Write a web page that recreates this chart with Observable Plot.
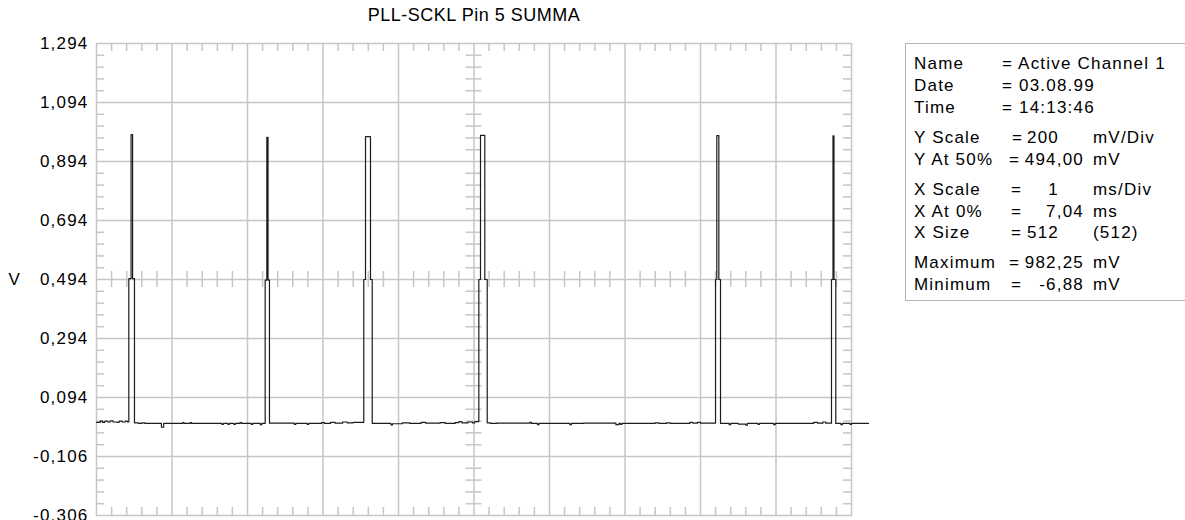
<!DOCTYPE html>
<html>
<head>
<meta charset="utf-8">
<script src="https://cdn.jsdelivr.net/npm/d3@7"></script>
<script src="https://cdn.jsdelivr.net/npm/@observablehq/plot@0.6"></script>
<style>
  html, body { margin: 0; padding: 0; background: #fff; }
  #wrap { position: relative; width: 1185px; height: 520px; overflow: hidden; font-family: "Liberation Sans", Arial, sans-serif; color: #000; }
  #info { position: absolute; left: 905px; top: 43px; width: 300px; height: 258px; border: 1px solid #b4b4b4; box-sizing: border-box; }
  .it { position: absolute; font-size: 17px; letter-spacing: 1.2px; white-space: nowrap; line-height: 1; transform: translateY(-50%); }
  .r { transform: translate(-100%, -50%); }
  #chart svg g[aria-label="y-axis tick label"] text { letter-spacing: 1.2px; }
  #chart svg g[aria-label="text"] text { letter-spacing: 0.5px; }
</style>
</head>
<body>
<div id="wrap"><div id="chart"></div></div>
<script>
// ---------- data ----------
const title = "PLL-SCKL Pin 5 SUMMA";
const yUnit = "V";
const yTicks = [-0.306, -0.106, 0.094, 0.294, 0.494, 0.694, 0.894, 1.094, 1.294];
const xDivisions = [0, 1, 2, 3, 4, 5, 6, 7, 8, 9, 10]; // ms (1 ms/Div)

// trace vertices (time in ms from left edge, voltage in V), drawn as a step trace
const traceT = [
  0.00, 0.05, 0.08, 0.11, 0.15, 0.18, 0.22, 0.27, 0.30, 0.34, 0.38, 0.41,
  0.428, 0.458, 0.478, 0.503,
  0.56, 0.60, 0.64, 0.86, 0.89, 1.14, 1.16, 1.24, 1.26, 1.66, 1.68, 1.74, 1.76, 1.82, 1.84, 1.90, 1.92, 2.05, 2.07, 2.17, 2.19,
  2.234, 2.256, 2.272, 2.291,
  2.62, 2.64, 2.79, 2.81, 2.98, 3.02, 3.10, 3.16, 3.26, 3.32, 3.40,
  3.540, 3.563, 3.629, 3.652,
  3.90, 3.92, 4.05, 4.15, 4.30, 4.36, 4.55, 4.62, 4.75, 4.80, 4.84, 4.92, 4.98, 5.01,
  5.064, 5.086, 5.143, 5.175,
  5.22, 5.30, 5.74, 5.76, 5.84, 5.86, 6.27, 6.29, 6.45, 6.88, 6.92, 6.94, 6.96, 7.40, 7.45, 7.55, 7.60, 7.86, 7.90, 7.96, 8.00,
  8.199, 8.216, 8.243, 8.265,
  8.38, 8.40, 8.50, 8.60, 8.62, 8.76, 8.78, 8.97, 8.99, 9.50, 9.55, 9.62, 9.66,
  9.735, 9.755, 9.768, 9.792,
  9.86, 9.88, 9.98, 10.00, 10.225
];
const traceV = [
  0.010, 0.014, 0.010, 0.014, 0.011, 0.015, 0.011, 0.010, 0.014, 0.011, 0.014, 0.011,
  0.497, 0.985, 0.497, 0.008,
  0.006, 0.008, 0.006, -0.0069, 0.006, 0.009, 0.006, 0.009, 0.006, 0.003, 0.006, 0.003, 0.006, 0.003, 0.006, 0.009, 0.006, 0.003, 0.006, 0.002, 0.006,
  0.492, 0.976, 0.492, 0.007,
  0.003, 0.006, 0.003, 0.006, 0.009, 0.006, 0.010, 0.007, 0.011, 0.008, 0.010,
  0.494, 0.978, 0.494, 0.006,
  0.001, 0.005, 0.008, 0.006, 0.010, 0.007, 0.009, 0.006, 0.009, 0.012, 0.008, 0.011, 0.008, 0.012,
  0.494, 0.98225, 0.494, 0.008,
  0.006, 0.007, 0.010, 0.006, 0.002, 0.006, 0.002, 0.006, 0.007, 0.002, 0.006, 0.003, 0.006, 0.008, 0.006, 0.008, 0.006, 0.010, 0.007, 0.010, 0.007,
  0.494, 0.982, 0.494, 0.006,
  0.002, 0.006, 0.004, 0.000, 0.006, 0.003, 0.006, 0.002, 0.006, 0.010, 0.007, 0.011, 0.007,
  0.494, 0.981, 0.494, 0.006,
  0.002, 0.006, 0.003, 0.006, 0.006
];

// info panel
const infoLabels = ["Name", "Date", "Time", "Y Scale", "Y At 50%", "X Scale", "X At 0%", "X Size", "Maximum", "Minimum"];
const infoHeader = ["= Active Channel 1", "= 03.08.99", "= 14:13:46"];
const infoValues = ["200", "494,00", "1", "7,04", "512", "982,25", "-6,88"];
const infoUnits = ["mV/Div", "mV", "ms/Div", "ms", "(512)", "mV", "mV"];

// ---------- layout ----------
const W = 1185, H = 520;
const mL = 96, mR = 334, mT = 43, mB = 5;
const pxX = 10 / (W - mL - mR);          // data units per pixel, x
const pxY = 1.6 / (H - mT - mB);          // data units per pixel, y
const tl = 8;                              // minor tick length in px
const gridColor = "#c6c6c6";

const majorX = xDivisions;
const minorX = d3.range(0, 50).map(i => i / 5).filter(v => Math.abs(v - Math.round(v)) > 1e-9 && v > 0);
const majorY = yTicks;
const minorY = d3.range(0, 40).map(i => -0.306 + i * 0.04).filter((v, i) => i % 5 !== 0);

const trace = traceT.map((t, i) => ({t, v: traceV[i]}));
const fmt = d => d.toFixed(3).replace(".", ",");

const chart = Plot.plot({
  width: W, height: H,
  marginLeft: mL, marginRight: mR, marginTop: mT, marginBottom: mB,
  x: {domain: [0, 10], axis: null},
  y: {domain: [-0.306, 1.294], axis: null},
  style: {fontFamily: "'Liberation Sans', Arial, sans-serif", fontSize: "17px", background: "white", color: "#000", overflow: "visible"},
  marks: [
    Plot.ruleX(majorX.slice(1, -1), {stroke: gridColor, strokeWidth: 1.5}),
    Plot.ruleY(majorY.slice(1, -1), {stroke: gridColor, strokeWidth: 1.5}),
    // minor ticks on edges and centre lines
    Plot.ruleY(minorY, {x1: 0, x2: tl * pxX, stroke: gridColor, strokeWidth: 1.5}),
    Plot.ruleY(minorY, {x1: 10 - tl * pxX, x2: 10, stroke: gridColor, strokeWidth: 1.5}),
    Plot.ruleY(minorY, {x1: 5 - tl * pxX, x2: 5 + tl * pxX, stroke: gridColor, strokeWidth: 1.5}),
    Plot.ruleX(minorX, {y1: 1.294 - tl * pxY, y2: 1.294, stroke: gridColor, strokeWidth: 1.5}),
    Plot.ruleX(minorX, {y1: -0.306, y2: -0.306 + tl * pxY, stroke: gridColor, strokeWidth: 1.5}),
    Plot.ruleX(minorX, {y1: 0.494 - tl * pxY, y2: 0.494 + tl * pxY, stroke: gridColor, strokeWidth: 1.5}),
    Plot.frame({stroke: gridColor, strokeWidth: 1.5}),
    Plot.axisY(yTicks, {label: null, tickSize: 0, tickPadding: 8, tickFormat: fmt, fontSize: 17, fill: "#000"}),
    Plot.text([yUnit], {frameAnchor: "left", y: 0.494, dx: -88, fontSize: 17, fill: "#000"}),
    Plot.text([title], {frameAnchor: "top", dy: -28, lineAnchor: "middle", fontSize: 18, fill: "#000"}),
    Plot.line(trace, {x: "t", y: "v", curve: "step-after", stroke: "#1c1c1c", strokeWidth: 1.2})
  ]
});
document.getElementById("chart").appendChild(chart);

// info panel (HTML text)
const rowY = [62, 84, 106, 136, 158, 188, 210, 231, 261, 283];
const eqX = [1011, 1008, 1010, 1010, 1010, 1008, 1010];
const valRight = [1058, 1083, 1058, 1083, 1058, 1083, 1083];
const wrap = document.getElementById("wrap");
const info = document.createElement("div");
info.id = "info";
wrap.appendChild(info);
function put(text, x, y, right) {
  const s = document.createElement("span");
  s.className = "it" + (right ? " r" : "");
  s.textContent = text;
  s.style.left = (x - 905) + "px";
  s.style.top = (y - 43) + "px";
  info.appendChild(s);
}
infoLabels.forEach((l, i) => put(l, 913, rowY[i]));
infoHeader.forEach((h, i) => put(h, 1001, rowY[i]));
infoValues.forEach((v, j) => {
  const i = j + 3;
  put("=", eqX[j], rowY[i]);
  put(v, valRight[j], rowY[i], true);
  put(infoUnits[j], 1092, rowY[i]);
});
</script>
</body>
</html>
